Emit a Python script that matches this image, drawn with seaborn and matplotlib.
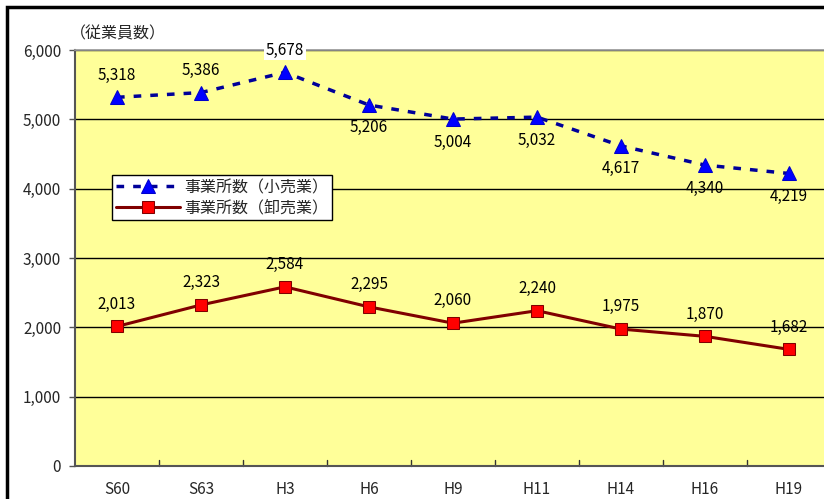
import matplotlib
matplotlib.use("Agg")
import matplotlib.pyplot as plt
import seaborn as sns
import pandas as pd
from matplotlib.patches import Rectangle

years = ["S60", "S63", "H3", "H6", "H9", "H11", "H14", "H16", "H19"]
retail = [5318, 5386, 5678, 5206, 5004, 5032, 4617, 4340, 4219]
wholesale = [2013, 2323, 2584, 2295, 2060, 2240, 1975, 1870, 1682]
retail_pos = ["up", "up", "up", "down", "down", "down", "down", "down", "down"]

sns.set_theme(style="white")
plt.rcParams["font.family"] = ["Noto Sans CJK JP", "DejaVu Sans"]

df = pd.DataFrame({"year": years, "retail": retail, "wholesale": wholesale})

fig = plt.figure(figsize=(8.24, 4.99), dpi=100)
ax = fig.add_axes([75 / 824, 1 - 466 / 499, 756 / 824, 416 / 499])
ax.set_facecolor("#FFFF99")

sns.lineplot(data=df, x="year", y="retail", ax=ax, sort=False,
             color="#000099", linestyle=(0, (2.2, 2.6)), linewidth=2.5,
             marker="^", markersize=10, markerfacecolor="#0000FF",
             markeredgecolor="#0000CC", label="事業所数（小売業）")
sns.lineplot(data=df, x="year", y="wholesale", ax=ax, sort=False,
             color="#800000", linewidth=2.2,
             marker="s", markersize=8, markerfacecolor="#FF0000",
             markeredgecolor="#800000", label="事業所数（卸売業）")

for i, v in enumerate(retail):
    dy = 16 if retail_pos[i] == "up" else -16.5
    kw = {}
    if i == 2:
        kw["bbox"] = dict(facecolor="white", edgecolor="none", pad=1)
    ax.annotate(f"{v:,}", (i, v), xytext=(0, dy), textcoords="offset points",
                ha="center", va="center", fontsize=11, color="black", **kw)
for i, v in enumerate(wholesale):
    ax.annotate(f"{v:,}", (i, v), xytext=(0, 16), textcoords="offset points",
                ha="center", va="center", fontsize=11, color="black")

ax.set_xlim(-0.5, len(years) - 0.5)
ax.set_ylim(0, 6000)
ax.set_yticks(range(0, 6001, 1000))
ax.set_yticklabels([f"{t:,}" for t in range(0, 6001, 1000)], fontsize=11)
ax.set_xticks(range(len(years)))
ax.set_xticklabels(years, fontsize=11)
ax.tick_params(axis="x", length=0, pad=11)
ax.tick_params(axis="y", length=4, width=1, color="#555555", pad=6, left=True)
for b in range(1, len(years)):
    ax.plot([b - 0.5, b - 0.5], [0, 80], color="#333333", lw=1, clip_on=False)
ax.set_xlabel("")
ax.set_ylabel("")
ax.grid(axis="y", color="black", linewidth=1)
ax.set_axisbelow(True)
for s in ["top", "right"]:
    ax.spines[s].set_color("#999999")
for s in ["left", "bottom"]:
    ax.spines[s].set_color("#555555")
    ax.spines[s].set_linewidth(1.5)

leg = ax.legend(loc="upper left", bbox_to_anchor=(112 / 824, 1 - 175 / 499),
                bbox_transform=fig.transFigure, borderaxespad=0, fontsize=11.5,
                frameon=True, fancybox=False, handlelength=4.0,
                borderpad=0.25, labelspacing=0.2, handletextpad=0.25)
leg.get_frame().set_edgecolor("black")
leg.get_frame().set_facecolor("white")
leg.get_frame().set_alpha(1)

fig.text(70 / 824, 1 - 34 / 499, "（従業員数）", fontsize=11.5, va="center", ha="left")
fig.patches.append(Rectangle((7 / 824, -0.1), 1.2, 1 - 7 / 499 + 0.1,
                             transform=fig.transFigure, fill=False,
                             edgecolor="black", linewidth=2.5))

fig.savefig("out.png", dpi=100)
